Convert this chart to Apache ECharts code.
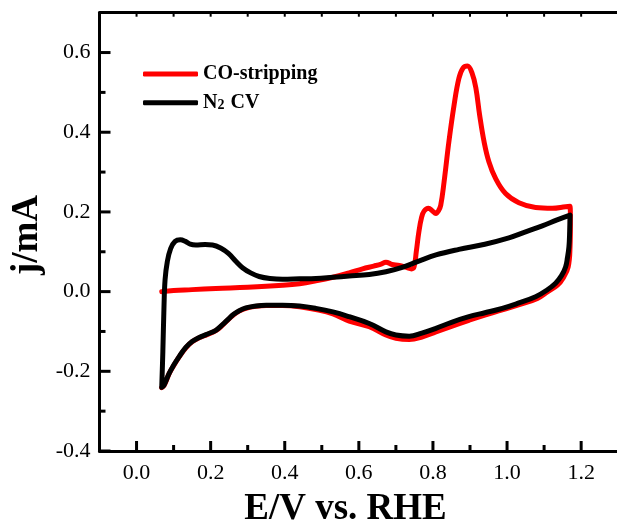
<!DOCTYPE html>
<html>
<head>
<meta charset="utf-8">
<script src="https://cdn.jsdelivr.net/npm/echarts@6/dist/echarts.min.js"></script>
<style>html,body{margin:0;padding:0;background:#fff}#c{width:617px;height:529px}</style>
</head>
<body>
<div id="c"></div>
<script>
var seriesNames = ['CO-stripping', 'N2 CV'];
var xTitle = 'E/V vs. RHE';
var yTitle = 'j/mA';
var xRange = [-0.1, 1.3];
var yRange = [-0.4, 0.7];
var xMajorTicks = [0, 0.2, 0.4, 0.6, 0.8, 1.0, 1.2];
var xMinorTicks = [-0.1, 0.1, 0.3, 0.5, 0.7, 0.9, 1.1];
var xTopTicks = [0, 0.1, 0.2, 0.3, 0.4, 0.5, 0.6, 0.7, 0.8, 0.9, 1.0, 1.1, 1.2];
var yMajorTicks = [-0.4, -0.2, 0, 0.2, 0.4, 0.6];
var yMinorTicks = [-0.3, -0.1, 0.1, 0.3, 0.5];

var n2CV = [[0.068,-0.240],[0.071,-0.150],[0.074,-0.040],[0.077,0.030],[0.083,0.075],[0.092,0.108],[0.104,0.126],[0.118,0.130],[0.132,0.126],[0.145,0.119],[0.160,0.117],[0.185,0.118],[0.205,0.117],[0.228,0.109],[0.248,0.096],[0.268,0.076],[0.286,0.060],[0.308,0.047],[0.331,0.038],[0.360,0.033],[0.394,0.031],[0.440,0.032],[0.484,0.033],[0.530,0.036],[0.574,0.039],[0.628,0.043],[0.673,0.050],[0.717,0.061],[0.760,0.076],[0.808,0.092],[0.870,0.106],[0.940,0.119],[1.005,0.135],[1.050,0.150],[1.095,0.165],[1.135,0.180],[1.170,0.192],[1.169,0.150],[1.167,0.112],[1.163,0.085],[1.158,0.062],[1.147,0.040],[1.131,0.021],[1.108,0.004],[1.077,-0.013],[1.030,-0.029],[0.987,-0.042],[0.940,-0.053],[0.897,-0.063],[0.850,-0.077],[0.808,-0.092],[0.770,-0.104],[0.736,-0.112],[0.700,-0.109],[0.673,-0.101],[0.628,-0.080],[0.574,-0.063],[0.530,-0.051],[0.484,-0.042],[0.440,-0.036],[0.394,-0.034],[0.350,-0.034],[0.322,-0.036],[0.295,-0.041],[0.277,-0.048],[0.262,-0.057],[0.250,-0.067],[0.232,-0.083],[0.214,-0.097],[0.190,-0.107],[0.169,-0.115],[0.150,-0.125],[0.133,-0.140],[0.115,-0.163],[0.100,-0.185],[0.088,-0.205],[0.074,-0.235],[0.068,-0.240]];

var coStripping = [[0.068,0.000],[0.100,0.003],[0.150,0.005],[0.214,0.008],[0.300,0.011],[0.394,0.016],[0.440,0.020],[0.484,0.027],[0.530,0.036],[0.574,0.047],[0.610,0.057],[0.640,0.064],[0.660,0.069],[0.673,0.074],[0.690,0.068],[0.709,0.066],[0.730,0.060],[0.742,0.057],[0.749,0.062],[0.755,0.100],[0.762,0.150],[0.769,0.185],[0.776,0.202],[0.788,0.209],[0.798,0.203],[0.808,0.196],[0.815,0.203],[0.821,0.217],[0.830,0.275],[0.843,0.376],[0.857,0.468],[0.870,0.535],[0.881,0.561],[0.893,0.566],[0.906,0.547],[0.916,0.510],[0.926,0.443],[0.938,0.376],[0.951,0.326],[0.969,0.284],[0.996,0.246],[1.032,0.223],[1.077,0.211],[1.122,0.209],[1.158,0.213],[1.170,0.214],[1.171,0.170],[1.170,0.112],[1.165,0.062],[1.152,0.035],[1.136,0.016],[1.110,0.000],[1.082,-0.017],[1.035,-0.032],[0.987,-0.046],[0.940,-0.059],[0.897,-0.072],[0.850,-0.087],[0.808,-0.101],[0.770,-0.114],[0.736,-0.120],[0.700,-0.117],[0.673,-0.109],[0.628,-0.088],[0.574,-0.074],[0.530,-0.056],[0.484,-0.045],[0.440,-0.038],[0.394,-0.035],[0.350,-0.035],[0.322,-0.037],[0.295,-0.042],[0.277,-0.049],[0.262,-0.058],[0.250,-0.068],[0.232,-0.084],[0.214,-0.098],[0.190,-0.108],[0.169,-0.116],[0.150,-0.126],[0.133,-0.141],[0.115,-0.164],[0.100,-0.186],[0.088,-0.206],[0.074,-0.236],[0.068,-0.241]];

var FONT = 'Liberation Serif';
var chart = echarts.init(document.getElementById('c'));
function fmt(v){ return (Math.round(v*10)/10).toFixed(1); }

var titleGraphics = [
  {type: 'text', x: 345.5, y: 509.5, style: {text: xTitle, font: 'bold 37px "Liberation Serif"', fill: '#000', textAlign: 'center', textVerticalAlign: 'middle'}},
  {type: 'text', x: 27.5, y: 235, rotation: Math.PI/2, style: {text: yTitle, font: 'bold 37px "Liberation Serif"', fill: '#000', textAlign: 'center', textVerticalAlign: 'middle'}}
];

var option = {
  animation: false,
  grid: {left: 99.5, top: 12.7, width: 518.7, height: 438.3, outerBoundsMode: 'none'},
  legend: {
    orient: 'vertical', left: 143, top: 64, itemWidth: 55, itemHeight: 5, itemGap: 8.7, padding: 0,
    icon: 'roundRect',
    data: [
      {name: seriesNames[0], itemStyle: {color: '#ff0000'}},
      {name: seriesNames[1], itemStyle: {color: '#000'}}
    ],
    formatter: function(name){
      if (name === seriesNames[1]) return '{b|N}{s|2}{b| CV}';
      return '{b|' + name + '}';
    },
    textStyle: {
      fontFamily: FONT, fontSize: 20, fontWeight: 'bold', color: '#000', lineHeight: 20,
      rich: {
        b: {fontFamily: FONT, fontSize: 20, fontWeight: 'bold', color: '#000', lineHeight: 20},
        s: {fontFamily: FONT, fontSize: 14, fontWeight: 'bold', color: '#000', lineHeight: 20, verticalAlign: 'bottom', padding: [4,1,0,0]}
      }
    }
  },
  xAxis: [
    {type: 'value', min: xRange[0], max: xRange[1], position: 'bottom', splitLine: {show: false},
     axisLine: {onZero: false, lineStyle: {color: '#000', width: 3}},
     axisTick: {show: false},
     axisLabel: {customValues: xMajorTicks, formatter: fmt, fontFamily: FONT, fontSize: 22, color: '#000', margin: 11}},
    {type: 'value', min: xRange[0], max: xRange[1], position: 'top', splitLine: {show: false},
     axisLine: {onZero: false, lineStyle: {color: '#000', width: 3}},
     axisTick: {show: false}, axisLabel: {show: false}}
  ],
  yAxis: [
    {type: 'value', min: yRange[0], max: yRange[1], position: 'left', splitLine: {show: false},
     axisLine: {onZero: false, lineStyle: {color: '#000', width: 3}},
     axisTick: {show: false},
     axisLabel: {customValues: yMajorTicks, formatter: fmt, fontFamily: FONT, fontSize: 22, color: '#000', margin: 9}}
  ],
  graphic: titleGraphics,
  series: [
    {name: seriesNames[0], type: 'line', data: coStripping, showSymbol: false, symbol: 'none', smooth: 0.4,
     lineStyle: {color: '#ff0000', width: 5, cap: 'round', join: 'round'}, itemStyle: {color: '#ff0000'}, z: 2},
    {name: seriesNames[1], type: 'line', data: n2CV, showSymbol: false, symbol: 'none', smooth: 0.4,
     lineStyle: {color: '#000', width: 5, cap: 'round', join: 'round'}, itemStyle: {color: '#000'}, z: 3}
  ]
};
chart.setOption(option);

// tick marks as small filled bars, placed through the chart's own axis scales
var finder = {xAxisIndex: 0, yAxisIndex: 0};
var tickEls = [];
function addTicks(values, side, len, w){
  for (var i = 0; i < values.length; i++) {
    var v = values[i];
    var p;
    if (side === 'left') p = chart.convertToPixel(finder, [xRange[0], v]);
    else if (side === 'top') p = chart.convertToPixel(finder, [v, yRange[1]]);
    else p = chart.convertToPixel(finder, [v, yRange[0]]);
    if (!p || isNaN(p[0]) || isNaN(p[1])) continue;
    var r;
    if (side === 'bottom') r = {x: p[0] - w / 2, y: p[1] - len, width: w, height: len};
    else if (side === 'top') r = {x: p[0] - w / 2, y: p[1], width: w, height: len};
    else r = {x: p[0], y: p[1] - w / 2, width: len, height: w};
    tickEls.push({type: 'rect', shape: r, style: {fill: '#000'}, z: 100, silent: true});
  }
}
addTicks(xMajorTicks, 'bottom', 10, 3);
addTicks(xMinorTicks, 'bottom', 6, 3);
addTicks(xTopTicks, 'top', 4, 2);
addTicks(yMajorTicks, 'left', 11, 3);
addTicks(yMinorTicks, 'left', 6, 3);
chart.setOption({graphic: titleGraphics.concat(tickEls)});
</script>
</body>
</html>
